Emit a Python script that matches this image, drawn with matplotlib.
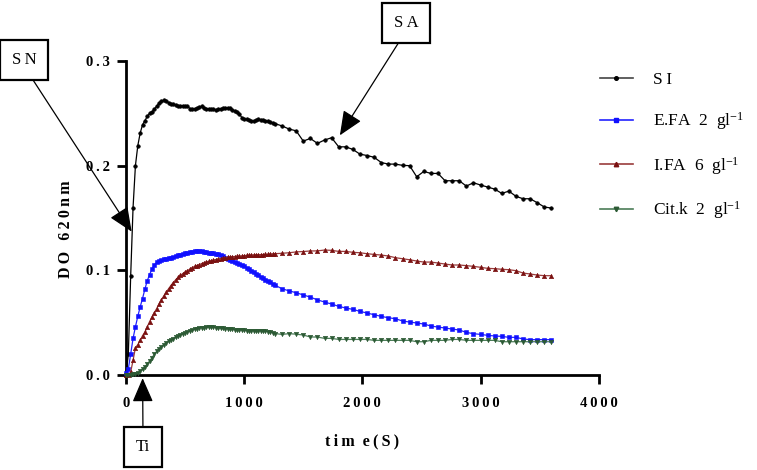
import matplotlib
matplotlib.use("Agg")
import matplotlib.pyplot as plt
from matplotlib.lines import Line2D

plt.rcParams['font.family'] = ['Liberation Serif', 'DejaVu Serif']
plt.rcParams['mathtext.default'] = 'regular'

# sampling times (s): every 20 s up to 1260, then every 60 s
TIME = [0, 20, 40, 60, 80, 100, 120, 140, 160, 180, 200, 220, 240, 260, 280, 300,
        320, 340, 360, 380, 400, 420, 440, 460, 480, 500, 520, 540, 560, 580, 600,
        620, 640, 660, 680, 700, 720, 740, 760, 780, 800, 820, 840, 860, 880, 900,
        920, 940, 960, 980, 1000, 1020, 1040, 1060, 1080, 1100, 1120, 1140, 1160,
        1180, 1200, 1220, 1240, 1260, 1320, 1380, 1440, 1500, 1560, 1620, 1680,
        1740, 1800, 1860, 1920, 1980, 2040, 2100, 2160, 2220, 2280, 2340, 2400,
        2460, 2520, 2580, 2640, 2700, 2760, 2820, 2880, 2940, 3000, 3060, 3120,
        3180, 3240, 3300, 3360, 3420, 3480, 3540, 3600]

SI = [0.000, 0.020, 0.095, 0.160, 0.200, 0.219, 0.231, 0.239, 0.243, 0.247, 0.250,
      0.2515, 0.254, 0.2568, 0.2597, 0.2617, 0.2623, 0.262, 0.2603, 0.2588, 0.2585,
      0.2578, 0.2573, 0.2573, 0.2573, 0.2573, 0.2573, 0.2545, 0.2543, 0.2543, 0.2550,
      0.2557, 0.2568, 0.2547, 0.2543, 0.2543, 0.2543, 0.2541, 0.2533, 0.2538, 0.2544,
      0.2548, 0.2551, 0.2553, 0.2550, 0.2534, 0.2521, 0.2509, 0.2494, 0.2460, 0.2443,
      0.2443, 0.2437, 0.2427, 0.2424, 0.2436, 0.2442, 0.2440, 0.2437, 0.2430, 0.2423,
      0.2417, 0.2408, 0.2402, 0.238, 0.235, 0.2333, 0.2235, 0.226, 0.2213, 0.2245,
      0.2267, 0.218, 0.218, 0.2155, 0.211, 0.2097, 0.208, 0.203, 0.2015, 0.2015,
      0.2003, 0.200, 0.1894, 0.1945, 0.1926, 0.1926, 0.1856, 0.1856, 0.1856, 0.1805,
      0.1837, 0.1815, 0.1796, 0.1776, 0.1735, 0.1757, 0.1707, 0.1684, 0.1684, 0.1646,
      0.1605, 0.1595]

EFA = [0.002, 0.006, 0.020, 0.035, 0.046, 0.056, 0.065, 0.073, 0.082, 0.090, 0.096,
       0.101, 0.1053, 0.1076, 0.1091, 0.1099, 0.1106, 0.1111, 0.1117, 0.1122, 0.1128,
       0.1134, 0.1143, 0.1151, 0.1157, 0.1163, 0.1169, 0.1175, 0.1180, 0.1185, 0.1187,
       0.1184, 0.1181, 0.1179, 0.1174, 0.1170, 0.1167, 0.1163, 0.1158, 0.1155, 0.1146,
       0.1136, 0.1122, 0.1111, 0.1102, 0.1093, 0.1084, 0.1074, 0.1061, 0.1050, 0.1037,
       0.1025, 0.1011, 0.0996, 0.0982, 0.0967, 0.0954, 0.0940, 0.0926, 0.0912, 0.0897,
       0.0884, 0.0871, 0.0859, 0.0824, 0.0804, 0.0786, 0.0765, 0.0744, 0.0718, 0.0697,
       0.0678, 0.0656, 0.0640, 0.0627, 0.0608, 0.0592, 0.0576, 0.0560, 0.0547, 0.0538,
       0.0516, 0.0506, 0.0497, 0.0487, 0.0468, 0.0458, 0.0449, 0.0439, 0.0430, 0.0407,
       0.0395, 0.0388, 0.0379, 0.0373, 0.0369, 0.0360, 0.0360, 0.0344, 0.0338, 0.0338,
       0.0338, 0.0338]

IFA = [0.000, 0.000, 0.003, 0.014, 0.026, 0.029, 0.033, 0.0375, 0.041, 0.046, 0.051,
       0.0555, 0.0595, 0.0635, 0.068, 0.072, 0.0755, 0.079, 0.0823, 0.0855, 0.0883,
       0.0909, 0.0932, 0.0952, 0.0968, 0.0983, 0.0997, 0.1011, 0.1025, 0.1037, 0.1046,
       0.1055, 0.1064, 0.1072, 0.1080, 0.1086, 0.1091, 0.1097, 0.1103, 0.1108, 0.1112,
       0.1116, 0.1121, 0.1125, 0.1128, 0.1130, 0.1132, 0.1133, 0.1135, 0.1137, 0.1140,
       0.1143, 0.1144, 0.1146, 0.1147, 0.1148, 0.1149, 0.1150, 0.1151, 0.1152, 0.1153,
       0.1155, 0.1157, 0.1159, 0.1163, 0.1168, 0.1176, 0.1180, 0.1185, 0.1186, 0.1194,
       0.1191, 0.1181, 0.1181, 0.1172, 0.1168, 0.1159, 0.1152, 0.1146, 0.1137, 0.1121,
       0.1111, 0.1101, 0.1089, 0.1079, 0.1079, 0.1070, 0.1060, 0.1051, 0.1051, 0.1045,
       0.1038, 0.1029, 0.1019, 0.1016, 0.1010, 0.1006, 0.0997, 0.0974, 0.0965, 0.0955,
       0.0949, 0.0949]

CITK = [0.000, 0.000, 0.000, 0.001, 0.0012, 0.002, 0.0037, 0.0055, 0.0078, 0.0105,
        0.0133, 0.0165, 0.0198, 0.0226, 0.025, 0.027, 0.0288, 0.0306, 0.0322, 0.0337,
        0.0348, 0.036, 0.0371, 0.0382, 0.0392, 0.0401, 0.041, 0.0418, 0.0426, 0.0435,
        0.0444, 0.0448, 0.0451, 0.0453, 0.0454, 0.0455, 0.0456, 0.0455, 0.0452, 0.0449,
        0.0447, 0.0445, 0.0442, 0.0440, 0.0437, 0.0435, 0.0433, 0.0432, 0.0430, 0.0428,
        0.0426, 0.0425, 0.0424, 0.0422, 0.0421, 0.0420, 0.0420, 0.0420, 0.0419, 0.0417,
        0.0415, 0.0410, 0.0403, 0.0396, 0.0388, 0.0395, 0.0390, 0.0382, 0.0363, 0.0363,
        0.0350, 0.0350, 0.0340, 0.0340, 0.0340, 0.0340, 0.0340, 0.0331, 0.0331, 0.0331,
        0.0331, 0.0331, 0.0331, 0.0318, 0.0318, 0.0331, 0.0331, 0.0331, 0.0340, 0.0340,
        0.0331, 0.0331, 0.0331, 0.0331, 0.0331, 0.0318, 0.0318, 0.0318, 0.0318, 0.0318,
        0.0318, 0.0318, 0.0318]

LABELS = ["S\u2009I", "E.FA  2  gl$^{-1}$", "I.FA  6  gl$^{-1}$", "Cit.k  2  gl$^{-1}$"]
XTICKS = [0, 1000, 2000, 3000, 4000]
YTICKS = [0.0, 0.1, 0.2, 0.3]
XTICK_LABELS = ["0", "1000", "2000", "3000", "4000"]
YTICK_LABELS = ["0.0", "0.1", "0.2", "0.3"]


def spaced(s):
    # GraphPad-style letter spacing
    return "\u2009".join(s)


fig = plt.figure(figsize=(7.57, 4.70), dpi=100)
ax = fig.add_axes([0.1664, 0.2021, 0.6245, 0.6681])

series = [
    (SI, "#000000", "#000000", "o", 2.6),
    (EFA, "#2222ff", "#1010ff", "s", 3.0),
    (IFA, "#9a3c3c", "#7a1010", "^", 3.2),
    (CITK, "#4b7d58", "#2c5a34", "v", 3.2),
]
handles = []
for vals, lc, mc, mk, ms in series:
    ax.plot(TIME, vals, color=lc, lw=0.9, marker=mk, ms=ms, mfc=mc, mec=mc,
            mew=0.4, clip_on=False, zorder=3)
    handles.append(Line2D([], [], color=lc if lc != "#000000" else "#444444",
                          lw=1.2, marker=mk, ms=ms, mfc=mc, mec=mc))

ax.set_xlim(0, 4000)
ax.set_ylim(0, 0.3)
for s in ("top", "right"):
    ax.spines[s].set_visible(False)
for s in ("left", "bottom"):
    ax.spines[s].set_linewidth(2.0)
ax.tick_params(direction="out", length=6.5, width=2.0)
ax.tick_params(axis="x", pad=9)
ax.tick_params(axis="y", pad=5)
ax.set_xticks(XTICKS)
ax.set_xticklabels([spaced(t) for t in XTICK_LABELS], fontsize=10.5, fontweight="bold")
ax.set_yticks(YTICKS)
ax.set_yticklabels([spaced(t) for t in YTICK_LABELS], fontsize=10.5, fontweight="bold")

ax.set_xlabel("t\u2009i\u2009m\u2002e\u2009(\u2009S\u2009)", fontsize=11.5, fontweight="bold")
ax.xaxis.set_label_coords(0.5, -0.185)
ax.set_ylabel("D\u2009O\u2002\u20096\u20092\u20090\u2009n\u2009m", fontsize=11.5, fontweight="bold")
ax.yaxis.set_label_coords(-0.11, 0.465)

fig.legend(handles, LABELS, loc="upper left", bbox_to_anchor=(0.7926, 0.848),
           frameon=False, fontsize=12.5, handlelength=1.9, handletextpad=1.15,
           labelspacing=1.3, borderpad=0, borderaxespad=0, numpoints=1)

# boxed annotations with arrows
box = dict(boxstyle="square,pad=0.7", fc="white", ec="black", lw=1.6)
arrow = dict(arrowstyle="-|>,head_length=1.5,head_width=0.65", color="black",
             lw=0.9, mutation_scale=10, shrinkA=0, shrinkB=0)
ax.annotate(spaced("SN"), xy=(48, 0.137), xycoords="data",
            xytext=(24, 410), textcoords="figure pixels", ha="center", va="center",
            fontsize=12, bbox=box, arrowprops=dict(arrow, relpos=(0.55, 0)),
            annotation_clip=False)
ax.annotate(spaced("SA"), xy=(1810, 0.229), xycoords="data",
            xytext=(406, 447), textcoords="figure pixels", ha="center", va="center",
            fontsize=12, bbox=box, arrowprops=dict(arrow, relpos=(0.5, 0)),
            annotation_clip=False)
ax.annotate("Ti", xy=(141, -0.003), xycoords="data",
            xytext=(143, 23), textcoords="figure pixels", ha="center", va="center",
            fontsize=12, bbox=box, arrowprops=dict(arrow, relpos=(0.5, 1)),
            annotation_clip=False)

fig.savefig("out.png", dpi=100)
